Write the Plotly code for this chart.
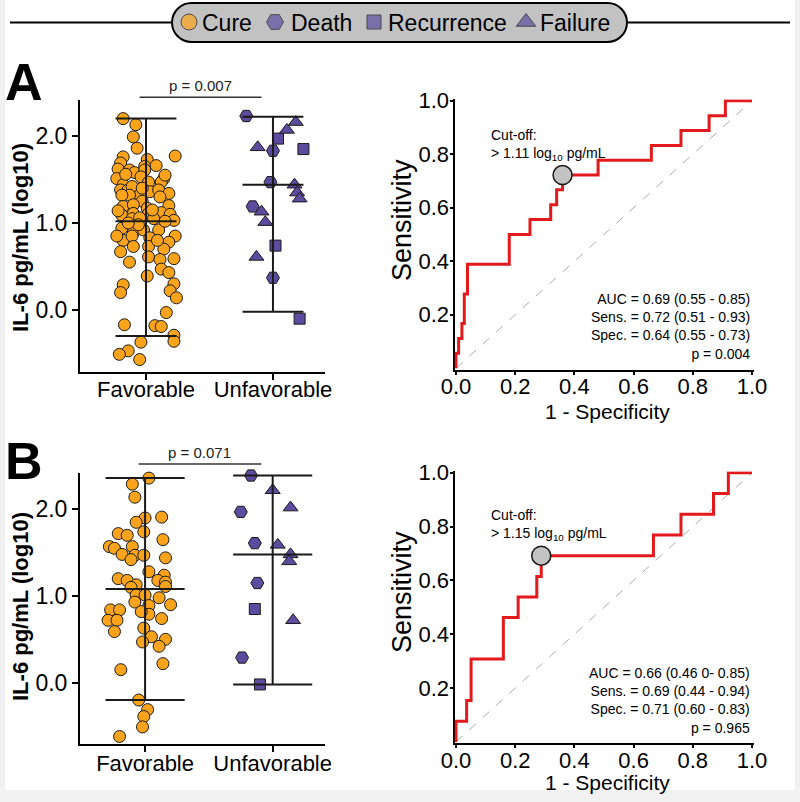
import plotly.graph_objects as go

W, H = 800, 802
def fx(px): return px / W
def fy(py): return 1 - py / H

# ---------------- data ----------------
groups = ["Favorable", "Unfavorable"]
outcomes = ["Cure", "Death", "Recurrence", "Failure"]

# Panel A – IL-6 (log10) per patient
A_fav_val = [2.20, 2.13, 1.99, 1.86, 1.77, 1.76, 1.73, 1.69, 1.65, 1.66, 1.62, 1.61, 1.58, 1.61,
             1.51, 1.53, 1.51, 1.47, 1.47, 1.44, 1.38, 1.38, 1.42, 1.36, 1.38, 1.34, 1.32, 1.32,
             1.32, 1.25, 1.30, 1.19, 1.20, 1.21, 1.17, 1.09, 1.11, 1.11, 1.12, 1.10, 1.05, 1.06,
             1.05, 1.03, 0.94, 0.89, 0.92, 0.92, 0.80, 0.85, 0.83, 0.85, 0.78, 0.73, 0.73, 0.70,
             0.67, 0.61, 0.55, 0.58, 0.59, 0.47, 0.43, 0.39, 0.29, 0.20, 0.30, 0.22, 0.14, -0.03,
             -0.17, -0.18, -0.19, -0.29, -0.36, -0.37, -0.47, -0.51, -0.57, 1.14, 1.15, 1.02,
             0.98, 1.00, 0.80, 0.85, 1.40, 1.55, 1.56]
A_fav_jit = [-0.18, -0.08, -0.10, -0.07, 0.23, -0.18, 0.01, -0.20, -0.01, 0.08, -0.22, -0.13, -0.09, -0.01,
             -0.23, -0.04, 0.14, 0.12, 0.02, -0.18, -0.20, -0.14, -0.11, 0.03, 0.10, 0.18, -0.05, -0.13,
             -0.19, -0.03, 0.11, -0.18, 0.18, -0.10, 0.01, -0.19, -0.10, 0.02, 0.12, 0.19, -0.11, -0.05,
             0.06, 0.22, -0.19, -0.10, -0.02, 0.10, -0.18, -0.11, 0.03, 0.23, 0.18, -0.10, 0.02, 0.14,
             -0.20, 0.02, -0.13, 0.11, 0.22, 0.12, 0.18, 0.01, -0.18, -0.20, 0.22, 0.19, 0.24, 0.16,
             -0.17, 0.07, 0.12, 0.22, 0.22, -0.04, -0.14, -0.21, -0.05, -0.22, 0.05, 0.15,
             -0.06, -0.14, 0.09, -0.23, -0.03, 0.15, -0.16]
A_unf_val = [2.23, 1.83, 1.47, 1.19, 0.37, 1.97, 1.85, 0.74, -0.10,
             2.16, 2.07, 1.87, 1.44, 1.35, 1.28, 1.13, 1.01, 0.61]
A_unf_jit = [-0.21, 0.00, -0.02, -0.16, 0.00, 0.04, 0.24, 0.02, 0.21,
             0.18, 0.11, -0.12, 0.17, 0.19, 0.21, -0.09, -0.06, -0.13]
A_unf_out = ["Death"] * 5 + ["Recurrence"] * 4 + ["Failure"] * 9
A_median = [1.02, 1.44]
A_low = [-0.30, -0.02]
A_high = [2.20, 2.22]
A_p = "p = 0.007"

# Panel B
B_fav_val = [2.36, 2.29, 2.14, 1.91, 1.90, 1.85, 1.74, 1.72, 1.70, 1.65, 1.57, 1.55, 1.57, 1.48,
             1.47, 1.42, 1.47, 1.44, 1.28, 1.20, 1.18, 1.24, 1.18, 1.16, 1.13, 1.11, 1.10, 1.01,
             0.98, 1.01, 0.90, 0.93, 0.84, 0.84, 0.89, 0.79, 0.82, 0.72, 0.72, 0.74, 0.59, 0.63,
             0.53, 0.50, 0.47, 0.42, 0.22, 0.15, -0.20, -0.31, -0.39, -0.51, -0.62]
B_fav_jit = [0.03, -0.10, -0.08, 0.13, 0.00, -0.07, -0.01, -0.21, -0.14, 0.14, -0.28, -0.24, -0.10, -0.18,
             -0.08, -0.11, -0.01, 0.16, 0.03, -0.21, -0.14, 0.15, 0.10, 0.16, -0.07, 0.16, -0.11, -0.07,
             0.11, 0.00, 0.20, -0.08, -0.27, -0.20, 0.03, 0.03, -0.03, -0.29, -0.22, 0.13, -0.24, -0.01,
             0.05, 0.16, -0.02, 0.11, 0.14, -0.19, -0.05, 0.02, -0.01, -0.02, -0.20]
B_unf_val = [2.39, 1.97, 1.61, 1.15, 0.29, 0.85, -0.02, 2.22, 2.02, 1.59, 1.48, 1.40, 0.72]
B_unf_jit = [-0.17, -0.25, -0.14, -0.12, -0.24, -0.14, -0.10, 0.00, 0.14, 0.04, 0.14, 0.13, 0.16]
B_unf_out = ["Death"] * 5 + ["Recurrence"] * 2 + ["Failure"] * 6
B_median = [1.08, 1.48]
B_low = [-0.20, -0.02]
B_high = [2.36, 2.39]
B_p = "p = 0.071"

# ROC curves (step vertices: jump to tpr at fpr)
rocA_fpr = [0, 0, 0.009, 0.02, 0.028, 0.039, 0.18, 0.25, 0.32, 0.34, 0.36, 0.48, 0.66, 0.76, 0.855, 0.91, 1.0]
rocA_tpr = [0, 0.056, 0.111, 0.167, 0.278, 0.389, 0.5, 0.556, 0.611, 0.667, 0.722, 0.778, 0.833, 0.889, 0.944, 1.0, 1.0]
rocA_cut = (0.36, 0.722)
rocA_cut_text = "Cut-off:<br>&gt; 1.11 log<sub>10</sub> pg/mL"
rocA_stats = ["AUC = 0.69 (0.55 - 0.85)", "Sens. = 0.72 (0.51 - 0.93)",
              "Spec. = 0.64 (0.55 - 0.73)", "p = 0.004"]

rocB_fpr = [0, 0, 0.036, 0.051, 0.16, 0.21, 0.273, 0.288, 0.667, 0.76, 0.87, 0.92, 1.0]
rocB_tpr = [0, 0.077, 0.154, 0.308, 0.462, 0.538, 0.615, 0.692, 0.769, 0.846, 0.923, 1.0, 1.0]
rocB_cut = (0.288, 0.692)
rocB_cut_text = "Cut-off:<br>&gt; 1.15 log<sub>10</sub> pg/mL"
rocB_stats = ["AUC = 0.66 (0.46 0- 0.85)", "Sens. = 0.69 (0.44 - 0.94)",
              "Spec. = 0.71 (0.60 - 0.83)", "p = 0.965"]

# ---------------- style ----------------
FONT = "Liberation Sans, Arial, Helvetica, sans-serif"
ORANGE = "#FBA41B"
PURPLE = "#5B4C9F"
EDGE = "#1a1a1a"
RED = "#E3191C"
SYM = {"Cure": "circle", "Death": "hexagon2", "Recurrence": "square", "Failure": "triangle-up"}
SIZE = {"Cure": 12, "Death": 13, "Recurrence": 11, "Failure": 13}
COL = {"Cure": ORANGE, "Death": PURPLE, "Recurrence": PURPLE, "Failure": PURPLE}

fig = go.Figure()

def axis_common(**kw):
    d = dict(showgrid=False, zeroline=False, showline=True, linecolor="black", linewidth=2,
             ticks="outside", tickcolor="black", tickwidth=2, color="black", automargin=False,
             tickfont=dict(family=FONT, size=22, color="black"))
    d.update(kw)
    return d

def scatter_panel(xa, ya, fav_val, fav_jit, unf_val, unf_jit, unf_out, med, low, high, cap):
    fig.add_trace(go.Scatter(
        x=[0 + j for j in fav_jit], y=fav_val, mode="markers", xaxis=xa, yaxis=ya,
        showlegend=False, cliponaxis=False,
        marker=dict(symbol=SYM["Cure"], size=SIZE["Cure"], color=COL["Cure"],
                    line=dict(color=EDGE, width=1))))
    for oc in ["Death", "Recurrence", "Failure"]:
        xs = [1 + j for j, o in zip(unf_jit, unf_out) if o == oc]
        ys = [v for v, o in zip(unf_val, unf_out) if o == oc]
        fig.add_trace(go.Scatter(
            x=xs, y=ys, mode="markers", xaxis=xa, yaxis=ya, showlegend=False, cliponaxis=False,
            marker=dict(symbol=SYM[oc], size=SIZE[oc], color=COL[oc],
                        line=dict(color=EDGE, width=1))))
    lx, ly = [], []
    for i in range(2):
        lx += [i, i, None]
        ly += [low[i], high[i], None]
        for v in (low[i], med[i], high[i]):
            lx += [i - cap, i + cap, None]
            ly += [v, v, None]
    fig.add_trace(go.Scatter(x=lx, y=ly, mode="lines", xaxis=xa, yaxis=ya, showlegend=False,
                             cliponaxis=False, line=dict(color="#1a1a1a", width=2)))

def roc_panel(xa, ya, fpr, tpr, cut):
    fig.add_trace(go.Scatter(x=[0, 1], y=[0, 1], mode="lines", xaxis=xa, yaxis=ya, showlegend=False,
                             line=dict(color="#ababab", width=1, dash="dash")))
    fig.add_trace(go.Scatter(x=fpr, y=tpr, mode="lines", xaxis=xa, yaxis=ya, showlegend=False,
                             line=dict(color=RED, width=3, shape="hv")))
    fig.add_trace(go.Scatter(x=[cut[0]], y=[cut[1]], mode="markers", xaxis=xa, yaxis=ya,
                             showlegend=False, cliponaxis=False,
                             marker=dict(size=19, color="#c3c3c3", line=dict(color=EDGE, width=1.5))))

scatter_panel("x", "y", A_fav_val, A_fav_jit, A_unf_val, A_unf_jit, A_unf_out,
              A_median, A_low, A_high, 0.24)
roc_panel("x2", "y2", rocA_fpr, rocA_tpr, rocA_cut)
scatter_panel("x3", "y3", B_fav_val, B_fav_jit, B_unf_val, B_unf_jit, B_unf_out,
              B_median, B_low, B_high, 0.31)
roc_panel("x4", "y4", rocB_fpr, rocB_tpr, rocB_cut)

# legend markers on a full-page pixel overlay axis
leg_x = [189, 275, 374, 526]
fig.add_trace(go.Scatter(
    x=leg_x, y=[22] * 4, mode="markers", xaxis="x5", yaxis="y5", showlegend=False, cliponaxis=False,
    marker=dict(symbol=[SYM[o] for o in outcomes], size=[16, 17, 14, 17],
                color=[COL[o] for o in outcomes], line=dict(color=EDGE, width=1))))

roc_x_dom = [fx(454.5), fx(753.5)]
layout = dict(
    template="none",
    width=W, height=H, margin=dict(l=0, r=0, t=0, b=0, pad=0), autosize=False,
    paper_bgcolor="white", plot_bgcolor="rgba(0,0,0,0)",
    font=dict(family=FONT, color="black"),
    showlegend=False, hovermode=False,
    xaxis=axis_common(domain=[fx(80), fx(325)], range=[-0.52, 1.41], tickvals=[0, 1],
                      ticktext=groups, ticklen=6, anchor="y", ticklabelstandoff=-9),
    yaxis=axis_common(domain=[fy(372), fy(100)], range=[-0.713, 2.414], tickvals=[0, 1, 2],
                      ticktext=["0.0", "1.0", "2.0"], ticklen=6, anchor="x",
                      tickfont=dict(family=FONT, size=23, color="black")),
    xaxis2=axis_common(domain=roc_x_dom, range=[-0.005, 1.005], tickvals=[0, 0.2, 0.4, 0.6, 0.8, 1.0],
                       tickformat=".1f", ticklen=3, anchor="y2", layer="below traces",
                       ticklabelstandoff=-7),
    yaxis2=axis_common(domain=[fy(369.6), fy(99.4)], range=[-0.005, 1.005], tickvals=[0.2, 0.4, 0.6, 0.8, 1.0],
                       tickformat=".1f", ticklen=3, anchor="x2", layer="below traces",
                       ticklabelstandoff=-4),
    xaxis3=axis_common(domain=[fx(80), fx(325)], range=[-0.51, 1.41], tickvals=[0, 1],
                       ticktext=groups, ticklen=6, anchor="y3", ticklabelstandoff=-7),
    yaxis3=axis_common(domain=[fy(744), fy(473)], range=[-0.707, 2.419], tickvals=[0, 1, 2],
                       ticktext=["0.0", "1.0", "2.0"], ticklen=6, anchor="x3",
                       tickfont=dict(family=FONT, size=23, color="black")),
    xaxis4=axis_common(domain=roc_x_dom, range=[-0.005, 1.005], tickvals=[0, 0.2, 0.4, 0.6, 0.8, 1.0],
                       tickformat=".1f", ticklen=3, anchor="y4", layer="below traces",
                       ticklabelstandoff=-7),
    yaxis4=axis_common(domain=[fy(743.3), fy(471.4)], range=[-0.005, 1.005], tickvals=[0.2, 0.4, 0.6, 0.8, 1.0],
                       tickformat=".1f", ticklen=3, anchor="x4", layer="below traces",
                       ticklabelstandoff=-4),
    xaxis5=dict(domain=[0, 1], range=[0, W], visible=False, anchor="y5", fixedrange=True, automargin=False),
    yaxis5=dict(domain=[0, 1], range=[H, 0], visible=False, anchor="x5", fixedrange=True, automargin=False),
)
fig.update_layout(**layout)

# ---------------- shapes ----------------
r = 19.5; k = 0.5523 * r
x0p, x1p, y0p, y1p = 172, 627, 3, 42
pill = (f"M {x0p + r},{y0p} L {x1p - r},{y0p} "
        f"C {x1p - r + k},{y0p} {x1p},{y0p + r - k} {x1p},{y0p + r} "
        f"C {x1p},{y0p + r + k} {x1p - r + k},{y1p} {x1p - r},{y1p} "
        f"L {x0p + r},{y1p} "
        f"C {x0p + r - k},{y1p} {x0p},{y0p + r + k} {x0p},{y0p + r} "
        f"C {x0p},{y0p + r - k} {x0p + r - k},{y0p} {x0p + r},{y0p} Z")
FRAME = "#f1f1f1"
shapes = [
    # light frame around the picture
    dict(type="rect", xref="x5", yref="y5", x0=0, x1=5, y0=0, y1=H, fillcolor=FRAME,
         line=dict(width=0), layer="below"),
    dict(type="rect", xref="x5", yref="y5", x0=W - 5, x1=W, y0=0, y1=H, fillcolor=FRAME,
         line=dict(width=0), layer="below"),
    dict(type="rect", xref="x5", yref="y5", x0=0, x1=W, y0=H - 12, y1=H, fillcolor=FRAME,
         line=dict(width=0), layer="below"),
    dict(type="line", xref="x5", yref="y5", x0=10, x1=x0p, y0=22.5, y1=22.5,
         line=dict(color="black", width=2), layer="below"),
    dict(type="line", xref="x5", yref="y5", x0=x1p, x1=790, y0=22.5, y1=22.5,
         line=dict(color="black", width=2), layer="below"),
    dict(type="path", xref="x5", yref="y5", path=pill, fillcolor="#c2c2c2",
         line=dict(color="black", width=2), layer="below"),
    # significance bars
    dict(type="line", xref="x", yref="paper", x0=-0.05, x1=0.91, y0=fy(97.3), y1=fy(97.3),
         line=dict(color="#333", width=1.5)),
    dict(type="line", xref="x3", yref="paper", x0=-0.05, x1=0.91, y0=fy(464), y1=fy(464),
         line=dict(color="#333", width=1.5)),
]
fig.update_layout(shapes=shapes)

# ---------------- annotations ----------------
ann = []
def txt(text, x, y, size, xanchor="center", yanchor="middle", bold=False, angle=0, align="center", xref="paper", yref="paper", color="black"):
    ann.append(dict(text=(f"<b>{text}</b>" if bold else text), x=x, y=y, xref=xref, yref=yref,
                    xanchor=xanchor, yanchor=yanchor, showarrow=False, textangle=angle, align=align,
                    font=dict(family=FONT, size=size, color=color)))

# legend texts
for o, px in zip(outcomes, [200, 289, 386, 538]):
    txt(o, fx(px), fy(23), 23, xanchor="left")

# panel letters
txt("A", fx(24), fy(82), 52, bold=True)
txt("B", fx(24), fy(461), 52, bold=True)

# p values
txt(A_p, 0.43, fy(96), 15, xref="x", yanchor="bottom", color="#222")
txt(B_p, 0.43, fy(463), 15, xref="x3", yanchor="bottom", color="#222")

# axis titles
txt("IL-6 pg/mL (log10)", fx(20), fy(238), 22, bold=True, angle=-90)
txt("IL-6 pg/mL (log10)", fx(20), fy(607), 22, bold=True, angle=-90)
txt("Sensitivity", fx(402), fy(220), 27, angle=-90)
txt("Sensitivity", fx(402), fy(592), 27, angle=-90)
txt("1 - Specificity", fx(607), fy(411), 21)
txt("1 - Specificity", fx(607), fy(782), 21)

# cut-off labels
txt(rocA_cut_text, fx(489), fy(145), 14, xanchor="left", align="left")
txt(rocB_cut_text, fx(489), fy(525), 14, xanchor="left", align="left")

# stats
txt("<br>".join(rocA_stats), fx(752), fy(364), 14, xanchor="right", yanchor="bottom", align="right")
txt("<br>".join(rocB_stats), fx(752), fy(738), 14, xanchor="right", yanchor="bottom", align="right")

fig.update_layout(annotations=ann)
fig.write_html("out.html", config={"displayModeBar": False, "staticPlot": False},
               post_script="document.body.style.margin='0';document.body.style.padding='0';")
